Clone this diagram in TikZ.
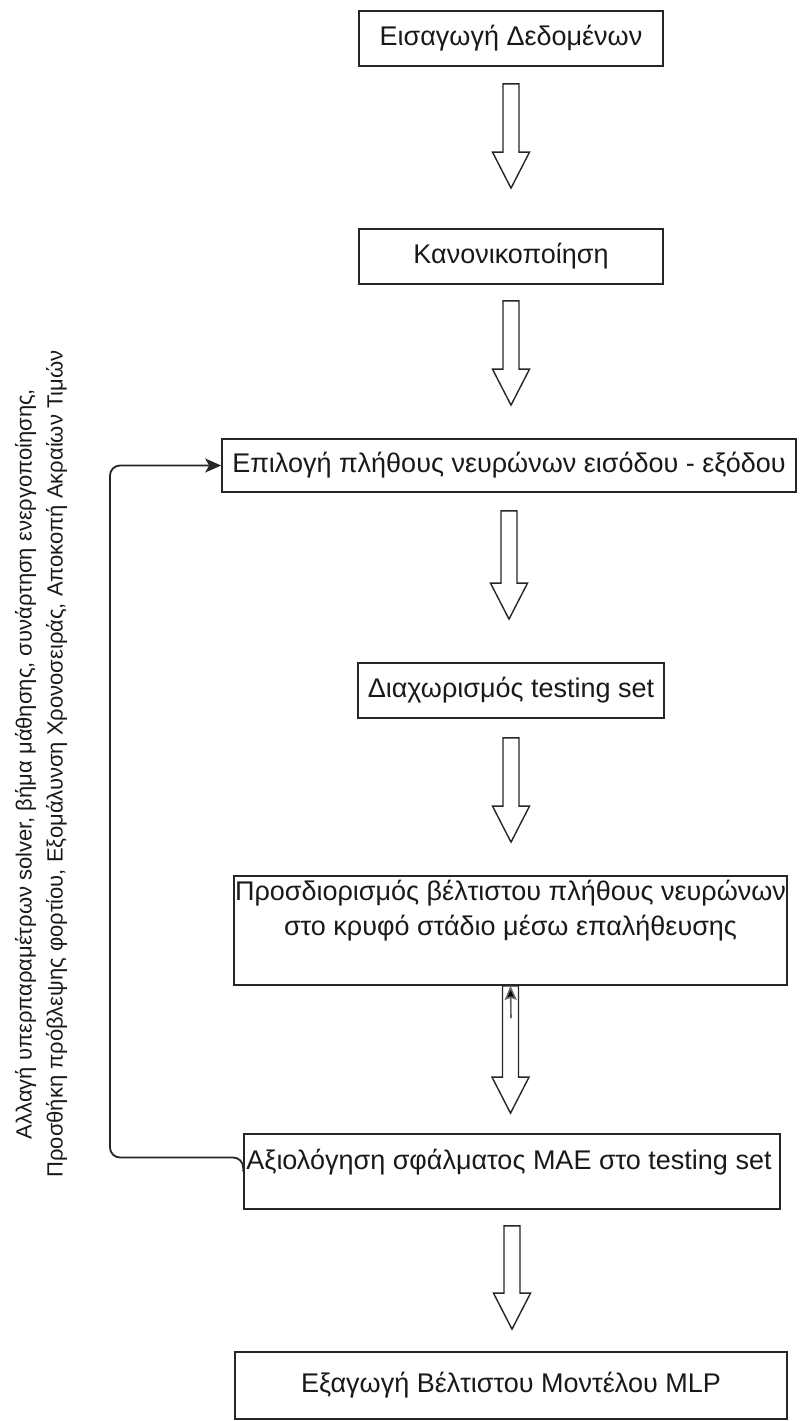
\documentclass[tikz,border=0pt]{standalone}
\usepackage{fontspec}
\setmainfont{Liberation Sans}
\usetikzlibrary{calc,arrows.meta}

\tikzset{
  stepbox/.style={draw=black!85, line width=1.7pt, rectangle, inner sep=0pt},
  boxtext/.style={font=\fontsize{27}{35}\selectfont, text=black!90, align=center, inner sep=0pt},
  blockarrow/.style={draw=black!85, line width=1.4pt, fill=white, line join=miter},
  looparrow/.style={draw=black!85, line width=1.8pt, rounded corners=10pt,
    -{Stealth[length=16pt,width=14pt,inset=4pt]}},
  backarrow/.style={draw=black!60, line width=1.6pt,
    -{Stealth[length=14pt,width=12pt,inset=2pt,fill=black]}},
}

% hollow block arrow from below node #1 to above node #2 (#3, #4: gaps in px)
\newcommand\blockarrow[4]{%
  \draw[blockarrow] let \p1=($(#1.south)+(0,-#3pt)$), \p2=($(#2.north)+(0,#4pt)$) in
    (\x1-8pt,\y1) -- (\x1-8pt,\y2+36pt) -- (\x1-18.5pt,\y2+36pt) -- (\x1,\y2)
    -- (\x1+18.5pt,\y2+36pt) -- (\x1+8pt,\y2+36pt) -- (\x1+8pt,\y1) -- cycle;}

\begin{document}
\begin{tikzpicture}[x=1pt,y=-1pt]
\useasboundingbox (0,0) rectangle (801,1421);

% process boxes
\node[stepbox, minimum width=304, minimum height=55] (b1) at (511,38.5) {};
\node[boxtext] (t1) at (b1) {Εισαγωγή Δεδομένων};
\node[stepbox, minimum width=304, minimum height=55] (b2) at (511,256.5) {};
\node[boxtext] (t2) at (b2) {Κανονικοποίηση};
\node[stepbox, minimum width=574, minimum height=53] (b3) at (509,465.5) {};
\node[boxtext] (t3) at (b3) {Επιλογή πλήθους νευρώνων εισόδου - εξόδου};
\node[stepbox, minimum width=306, minimum height=55] (b4) at (511,690.5) {};
\node[boxtext] (t4) at (b4) {Διαχωρισμός testing set};
\node[stepbox, minimum width=553, minimum height=109] (b5) at (510.5,930.5) {};
\node[boxtext] (t5) at (510.5,911) {Προσδιορισμός βέλτιστου πλήθους νευρώνων\\στο κρυφό στάδιο μέσω επαλήθευσης};
\node[stepbox, minimum width=536, minimum height=75] (b6) at (512,1171.5) {};
\node[boxtext] (t6) at (509,1162) {Αξιολόγηση σφάλματος MAE στο testing set};
\node[stepbox, minimum width=552, minimum height=67] (b7) at (511,1385.5) {};
\node[boxtext] (t7) at (b7) {Εξαγωγή Βέλτιστου Μοντέλου MLP};

% flow arrows
\blockarrow{b1}{b2}{17}{40}
\blockarrow{b2}{b3}{16}{33}
\blockarrow{b3}{b4}{18}{43}
\blockarrow{b4}{b5}{19}{33}
\blockarrow{b5}{b6}{0}{20}
\blockarrow{b6}{b7}{16}{22}

% short return arrow inside the fifth block arrow
\coordinate (fb) at (511,1018);
\draw[backarrow] (fb) -- (b5.south);

% feedback loop
\draw[looparrow] (b6.west) -- ++(0,-14) -- (110,1157.5) -- (110,465.5) -- (b3.west);

% loop annotation
\node[rotate=90, align=center, font=\fontsize{22}{31}\selectfont, text=black!90] (note) at (41,764)
  {Αλλαγή υπερπαραμέτρων solver, βήμα μάθησης, συνάρτηση ενεργοποίησης,\\
   Προσθήκη πρόβλεψης φορτίου, Εξομάλυνση Χρονοσειράς, Αποκοπή Ακραίων Τιμών};
\end{tikzpicture}
\end{document}
